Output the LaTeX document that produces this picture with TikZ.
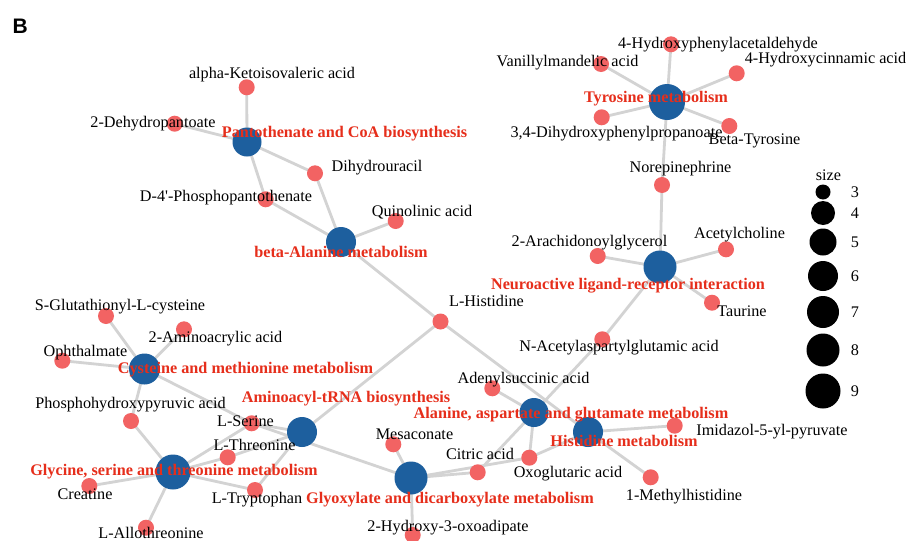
\documentclass[tikz,border=0pt]{standalone}
\usepackage{fontspec}
\setmainfont{Liberation Serif}
\newfontfamily\labelsans{Liberation Sans}
\definecolor{hubblue}{HTML}{1D5F9E}
\definecolor{metred}{HTML}{F26363}
\definecolor{edgegray}{HTML}{D3D3D3}
\definecolor{pathred}{HTML}{E62E1B}
\pgfdeclarelayer{bglayer}
\pgfdeclarelayer{edgelayer}
\pgfsetlayers{bglayer,edgelayer,main}
\begin{document}
\begin{tikzpicture}[x=1pt,y=-1pt,
  edge/.style={draw=edgegray,line width=2.8pt},
  met/.style={circle,fill=metred,inner sep=0pt,minimum size=16pt},
  hub/.style={circle,fill=hubblue,inner sep=0pt,minimum size=#1},
  lab/.style={inner sep=0pt,anchor=base,font=\fontsize{16.2}{18}\selectfont},
  plab/.style={inner sep=0pt,anchor=base,text=pathred,font=\fontsize{16.2}{18}\selectfont\bfseries},
  legc/.style={circle,fill=black,inner sep=0pt,minimum size=#1},
  legn/.style={inner sep=0pt,anchor=center,font=\fontsize{16.2}{18}\selectfont}]
\useasboundingbox (0,0) rectangle (908,541);
\begin{pgfonlayer}{bglayer}
\fill[white] (0,0) rectangle (908,541);
\end{pgfonlayer}
% hubs
\node[hub=29pt] (pc) at (247,142) {};
\node[hub=30pt] (ba) at (341,242) {};
\node[hub=36pt] (ty) at (667,102) {};
\node[hub=33pt] (nl) at (660,267) {};
\node[hub=31pt] (cm) at (144.5,369) {};
\node[hub=30pt] (at) at (302,432) {};
\node[hub=35pt] (gs) at (173,472) {};
\node[hub=33pt] (gd) at (411,478) {};
\node[hub=29pt] (aa) at (534,412.5) {};
\node[hub=30pt] (hm) at (588,432) {};
% metabolite dots
\node[met] (aki) at (246.7,87.3) {};
\node[met] (dhp) at (174.7,123.7) {};
\node[met] (dhu) at (315,173.3) {};
\node[met] (dpp) at (265.7,199.3) {};
\node[met] (qui) at (395.7,221) {};
\node[met] (hpa) at (671,44.3) {};
\node[met] (vma) at (601,64) {};
\node[met] (hci) at (736.7,73.3) {};
\node[met] (dhpp) at (601.7,117.3) {};
\node[met] (bty) at (729.3,126) {};
\node[met] (nor) at (662,185) {};
\node[met] (ag) at (597.7,256) {};
\node[met] (ach) at (726,249.3) {};
\node[met] (tau) at (712,302.7) {};
\node[met] (naag) at (602.3,339.3) {};
\node[met] (his) at (440.5,321.5) {};
\node[met] (sgc) at (106,316) {};
\node[met] (aaa) at (184,329.3) {};
\node[met] (oph) at (62.3,360.7) {};
\node[met] (php) at (131,421) {};
\node[met] (ser) at (251.7,423.3) {};
\node[met] (thr) at (227.7,457.3) {};
\node[met] (cre) at (89.3,486) {};
\node[met] (trp) at (255,490) {};
\node[met] (alt) at (146,527.7) {};
\node[met] (mes) at (393.3,444.3) {};
\node[met] (hoa) at (412.7,535) {};
\node[met] (cit) at (477.7,472.3) {};
\node[met] (oxo) at (529.3,457.7) {};
\node[met] (ads) at (492.3,388.3) {};
\node[met] (imp) at (674.7,425.7) {};
\node[met] (mhi) at (650.7,477.3) {};
% edges
\begin{pgfonlayer}{edgelayer}
\foreach \a/\b in {pc/aki,pc/dhp,pc/dhu,pc/dpp,dhu/ba,dpp/ba,ba/qui,ba/his,
  ty/hpa,ty/vma,ty/hci,ty/dhpp,ty/bty,ty/nor,nor/nl,
  nl/ag,nl/ach,nl/tau,nl/naag,naag/aa,his/at,his/hm,
  cm/sgc,cm/aaa,cm/oph,cm/php,cm/ser,
  gs/php,gs/ser,gs/thr,gs/trp,gs/cre,gs/alt,
  at/ser,at/thr,at/trp,
  gd/ser,gd/mes,gd/hoa,gd/cit,gd/oxo,
  aa/ads,aa/cit,aa/oxo,hm/oxo,hm/imp,hm/mhi}
  \draw[edge] (\a.center) -- (\b.center);
\end{pgfonlayer}
% metabolite labels
\node[lab] (aki-t) at (272,78) {alpha-Ketoisovaleric acid};
\node[lab] (dhp-t) at (153,127) {2-Dehydropantoate};
\node[lab] (dhu-t) at (377,171) {Dihydrouracil};
\node[lab] (dpp-t) at (226,201) {D-4\textquotesingle-Phosphopantothenate};
\node[lab] (qui-t) at (422,216) {Quinolinic acid};
\node[lab] (hpa-t) at (718,48) {4-Hydroxyphenylacetaldehyde};
\node[lab] (vma-t) at (567.5,66) {Vanillylmandelic acid};
\node[lab] (hci-t) at (825.5,63) {4-Hydroxycinnamic acid};
\node[lab] (dhpp-t) at (616.5,137) {3,4-Dihydroxyphenylpropanoate};
\node[lab] (bty-t) at (754.5,144) {Beta-Tyrosine};
\node[lab] (nor-t) at (680.5,172) {Norepinephrine};
\node[lab] (ag-t) at (589.5,246) {2-Arachidonoylglycerol};
\node[lab] (ach-t) at (739.5,238) {Acetylcholine};
\node[lab] (tau-t) at (742,316) {Taurine};
\node[lab] (naag-t) at (619,351.7) {N-Acetylaspartylglutamic acid};
\node[lab] (his-t) at (486.5,306.7) {L-Histidine};
\node[lab] (sgc-t) at (120,310.7) {S-Glutathionyl-L-cysteine};
\node[lab] (aaa-t) at (215.5,342.7) {2-Aminoacrylic acid};
\node[lab] (oph-t) at (85.5,356) {Ophthalmate};
\node[lab] (php-t) at (130.5,408.3) {Phosphohydroxypyruvic acid};
\node[lab] (ser-t) at (245.5,426) {L-Serine};
\node[lab] (thr-t) at (254.5,450) {L-Threonine};
\node[lab] (cre-t) at (85,499) {Creatine};
\node[lab] (trp-t) at (257,503.3) {L-Tryptophan};
\node[lab] (alt-t) at (151,538) {L-Allothreonine};
\node[lab] (mes-t) at (414.5,439.3) {Mesaconate};
\node[lab] (hoa-t) at (448,531) {2-Hydroxy-3-oxoadipate};
\node[lab] (cit-t) at (480,459.3) {Citric acid};
\node[lab] (oxo-t) at (568,477.3) {Oxoglutaric acid};
\node[lab] (ads-t) at (523.5,383.3) {Adenylsuccinic acid};
\node[lab] (imp-t) at (772,435) {Imidazol-5-yl-pyruvate};
\node[lab] (mhi-t) at (684,500) {1-Methylhistidine};
% pathway labels
\node[plab] (pc-t) at (344.5,137) {Pantothenate and CoA biosynthesis};
\node[plab] (ba-t) at (341,257) {beta-Alanine metabolism};
\node[plab] (ty-t) at (656,102) {Tyrosine metabolism};
\node[plab] (nl-t) at (628,289) {Neuroactive ligand-receptor interaction};
\node[plab] (cm-t) at (245.5,373.3) {Cysteine and methionine metabolism};
\node[plab] (at-t) at (346,402.3) {Aminoacyl-tRNA biosynthesis};
\node[plab] (gs-t) at (174,475) {Glycine, serine and threonine metabolism};
\node[plab] (gd-t) at (450,503) {Glyoxylate and dicarboxylate metabolism};
\node[plab] (aa-t) at (571,418.3) {Alanine, aspartate and glutamate metabolism};
\node[plab] (hm-t) at (624,446.7) {Histidine metabolism};
% panel letter
\node[inner sep=0pt,anchor=base west,font=\labelsans\fontsize{21}{24}\selectfont\bfseries] (panel) at (12.5,33) {B};
% legend
\node[lab] (size-t) at (828.5,180) {size};
\foreach \v/\y/\d in {3/192/15pt,4/213/24pt,5/242/27pt,6/276/30pt,7/312/32pt,8/350/33pt,9/391/35pt}{
  \node[legc=\d] (leg\v) at (823,\y) {};
  \node[legn] (legn\v) at (855,\y) {\v};
}
\end{tikzpicture}
\end{document}
